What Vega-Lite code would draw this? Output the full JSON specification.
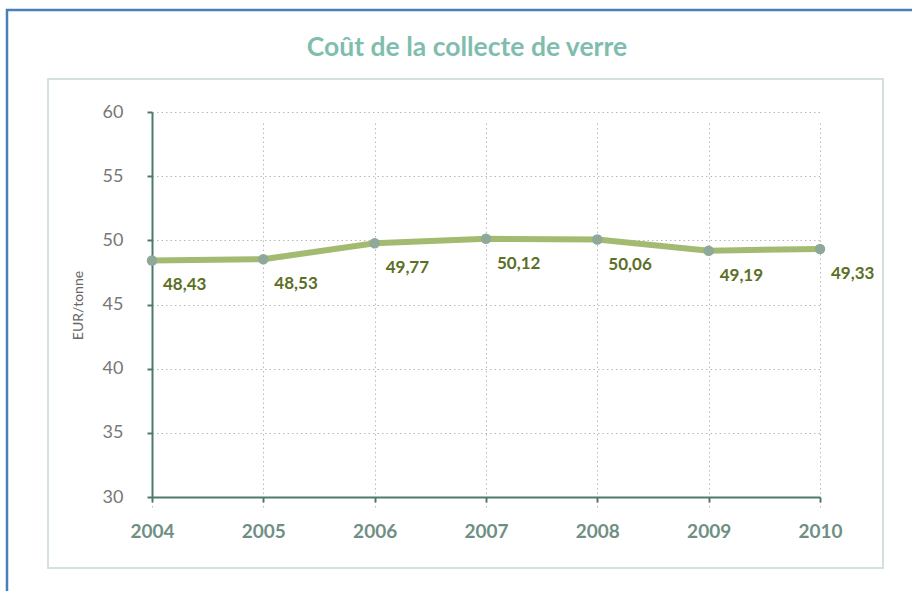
{
  "$schema": "https://vega.github.io/schema/vega-lite/v6.json",
  "width": 920,
  "height": 600,
  "autosize": {"type": "none"},
  "padding": {"left": 7, "top": 10, "right": -15, "bottom": -19},
  "background": "white",
  "title": {
    "text": "Coût de la collecte de verre",
    "anchor": "middle",
    "offset": -64,
    "baseline": "middle",
    "font": "Lato",
    "fontSize": 26.5,
    "fontWeight": "bold",
    "color": "#7fbdae"
  },
  "config": {
    "locale": {"number": {"decimal": ",", "thousands": " ", "grouping": [3], "currency": ["", " €"]}},
    "view": {"stroke": "#4a7ebb", "strokeWidth": 2.5},
    "font": "Lato"
  },
  "data": {
    "values": [
      {"annee": 2004, "cout": 48.43},
      {"annee": 2005, "cout": 48.53},
      {"annee": 2006, "cout": 49.77},
      {"annee": 2007, "cout": 50.12},
      {"annee": 2008, "cout": 50.06},
      {"annee": 2009, "cout": 49.19},
      {"annee": 2010, "cout": 49.33}
    ]
  },
  "layer": [
    {
      "encoding": {
        "x": {
          "field": "annee",
          "type": "quantitative",
          "scale": {"domain": [2004, 2010], "range": [145, 813], "nice": false, "zero": false},
          "axis": {
            "orient": "bottom",
            "offset": -113,
            "values": [2004, 2005, 2006, 2007, 2008, 2009, 2010],
            "format": "d",
            "title": null,
            "grid": true,
            "gridColor": "#b8b8b8",
            "gridDash": [1.5, 3],
            "gridWidth": 1,
            "domainColor": "#4e7a6c",
            "domainWidth": 2,
            "tickColor": "#4e7a6c",
            "tickWidth": 2,
            "tickSize": 5,
            "labelPadding": 20,
            "labelFont": "Lato",
            "labelFontSize": 19,
            "labelFontWeight": "bold",
            "labelColor": "#6f8f85",
            "labelFlush": false
          }
        },
        "y": {
          "field": "cout",
          "type": "quantitative",
          "scale": {"domain": [30, 60], "range": [487, 102], "nice": false, "zero": false},
          "axis": {
            "orient": "left",
            "offset": -145,
            "values": [30, 35, 40, 45, 50, 55, 60],
            "format": "d",
            "title": "EUR/tonne",
            "titleX": -74,
            "titleY": 295,
            "titleAngle": 270,
            "titleAlign": "center",
            "titleBaseline": "middle",
            "titleFont": "Lato",
            "titleFontSize": 14,
            "titleFontWeight": "normal",
            "titleColor": "#666666",
            "grid": true,
            "gridColor": "#b8b8b8",
            "gridDash": [1.5, 3],
            "gridWidth": 1,
            "domainColor": "#4e7a6c",
            "domainWidth": 2,
            "tickColor": "#4e7a6c",
            "tickWidth": 2,
            "tickSize": 5,
            "labelPadding": 24,
            "labelFont": "Lato",
            "labelFontSize": 18,
            "labelColor": "#777777",
            "labelFlush": false
          }
        }
      },
      "layer": [
        {"mark": {"type": "line", "color": "#a2bb71", "strokeWidth": 6}},
        {"mark": {"type": "point", "filled": true, "color": "#8ea89a", "size": 110, "opacity": 1}},
        {
          "mark": {"type": "text", "align": "left", "baseline": "middle", "dx": 11, "dy": 25, "font": "Lato", "fontSize": 17, "fontWeight": "bold", "color": "#5b6f25"},
          "encoding": {"text": {"field": "cout", "type": "quantitative", "format": ".2f"}}
        }
      ]
    },
    {
      "data": {"values": [{}]},
      "mark": {"type": "rect", "filled": false, "color": "#d3e2de", "strokeWidth": 2},
      "encoding": {
        "x": {"datum": 2003.066, "type": "quantitative"},
        "x2": {"datum": 2010.566},
        "y": {"datum": 62.57, "type": "quantitative"},
        "y2": {"datum": 24.47}
      }
    }
  ]
}
